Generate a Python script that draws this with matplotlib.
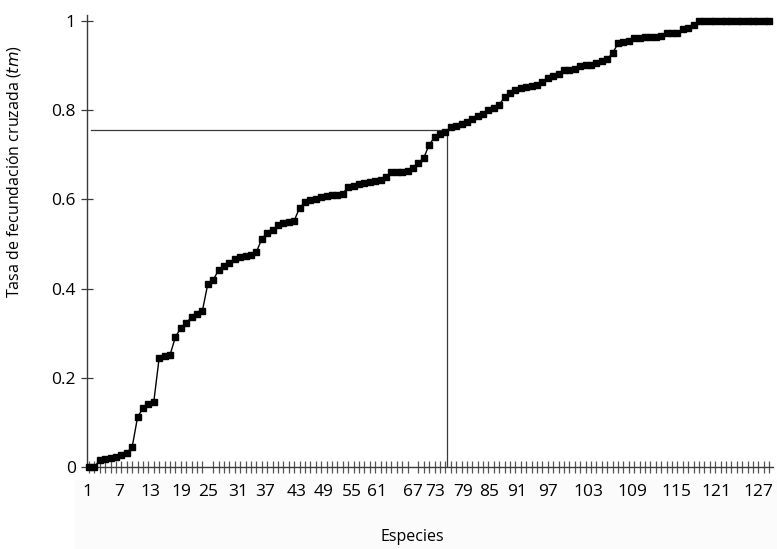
import numpy as np
import matplotlib
matplotlib.use("Agg")
import matplotlib.pyplot as plt
from matplotlib.ticker import FixedLocator, NullFormatter
from matplotlib.patches import Rectangle

plt.rcParams['font.family'] = ['Open Sans', 'DejaVu Sans']

# tasa de fecundacion cruzada, especies ordenadas
tm = [0.0, 0.0, 0.016, 0.019, 0.021, 0.022, 0.028, 0.032, 0.045, 0.112,
      0.132, 0.141, 0.146, 0.245, 0.249, 0.251, 0.291, 0.312, 0.323, 0.336,
      0.343, 0.35, 0.41, 0.419, 0.442, 0.451, 0.457, 0.466, 0.47, 0.473,
      0.476, 0.482, 0.511, 0.525, 0.531, 0.543, 0.546, 0.549, 0.552, 0.581,
      0.594, 0.598, 0.602, 0.605, 0.607, 0.61, 0.611, 0.613, 0.628, 0.631,
      0.635, 0.637, 0.639, 0.641, 0.643, 0.65, 0.661, 0.661, 0.662, 0.663,
      0.67, 0.682, 0.693, 0.722, 0.74, 0.747, 0.751, 0.762, 0.765, 0.768,
      0.773, 0.781, 0.787, 0.792, 0.8, 0.806, 0.812, 0.83, 0.838, 0.845,
      0.85, 0.852, 0.854, 0.857, 0.863, 0.872, 0.876, 0.881, 0.89, 0.891,
      0.892, 0.899, 0.901, 0.901, 0.905, 0.91, 0.915, 0.928, 0.95, 0.952,
      0.955, 0.962, 0.963, 0.964, 0.964, 0.964, 0.966, 0.973, 0.973, 0.973,
      0.982, 0.984, 0.991, 1.0, 1.0, 1.0, 1.0, 1.0, 1.0, 1.0,
      1.0, 1.0, 1.0, 1.0, 1.0, 1.0, 1.0]
species = np.arange(1, len(tm) + 1)

# tick labels as printed (placed where they sit in the original figure)
xlabels = ['1', '7', '13', '19', '25', '31', '37', '43', '49', '55', '61',
           '67', '73', '79', '85', '91', '97', '103', '109', '115', '121', '127']
xlabel_pos = [0.7, 6.6, 12.3, 18.2, 23.0, 28.6, 33.6, 39.5, 44.5, 49.7, 54.3,
              61.0, 65.1, 70.3, 75.1, 80.3, 86.1, 93.5, 101.7, 109.9, 117.3, 124.9]
yticks = [0, 0.2, 0.4, 0.6, 0.8, 1.0]
ytick_labels = ['0', '0.2', '0.4', '0.6', '0.8', '1']

ref_x = 67.3
ref_y = 0.756

axcol = '#3a3a3a'

fig = plt.figure(figsize=(7.77, 5.49), dpi=100)
# faint band under the axis, as in the scanned figure
fig.patches.append(Rectangle((75 / 777, 0), 1, 69 / 549, transform=fig.transFigure,
                             color='#fbfbfb', zorder=-1))
ax = fig.add_axes([87 / 777, 1 - 467 / 549, (773 - 87) / 777, (467 - 15) / 549])
ax.patch.set_alpha(0)

ax.plot(species, tm, color='black', lw=1.0, marker='s', ms=4.8,
        mec='black', mfc='black', clip_on=False, zorder=3)

ax.plot([1.4, ref_x], [ref_y, ref_y], color=axcol, lw=0.9, zorder=2)
ax.plot([ref_x, ref_x], [0, ref_y], color=axcol, lw=0.9, zorder=2)

ax.set_xlim(0.63, 127.7)
ax.set_ylim(0, 1.0135)

for s in ['top', 'right']:
    ax.spines[s].set_visible(False)
for s in ['left', 'bottom']:
    ax.spines[s].set_color(axcol)
    ax.spines[s].set_linewidth(1.0)

ax.xaxis.set_major_locator(FixedLocator(xlabel_pos))
ax.set_xticklabels(xlabels)
ax.xaxis.set_minor_locator(FixedLocator(list(species)))
ax.xaxis.set_minor_formatter(NullFormatter())
ax.tick_params(axis='x', which='major', length=0, pad=12, labelsize=12.5)
ax.tick_params(axis='x', which='minor', direction='inout', length=9,
               width=0.9, color='#555555')

ax.set_yticks(yticks)
ax.set_yticklabels(ytick_labels)
ax.tick_params(axis='y', direction='inout', length=8, width=0.9,
               color=axcol, labelsize=12.5, pad=4)

fig.text(412 / 777, 1 - 537 / 549, 'Especies', ha='center', va='center',
         fontsize=11.5)
fig.text(14 / 777, 1 - 172 / 549, 'Tasa de fecundación cruzada ($\\it{tm}$)',
         rotation=90, ha='center', va='center', fontsize=11.5)

fig.savefig('out.png', dpi=100)
